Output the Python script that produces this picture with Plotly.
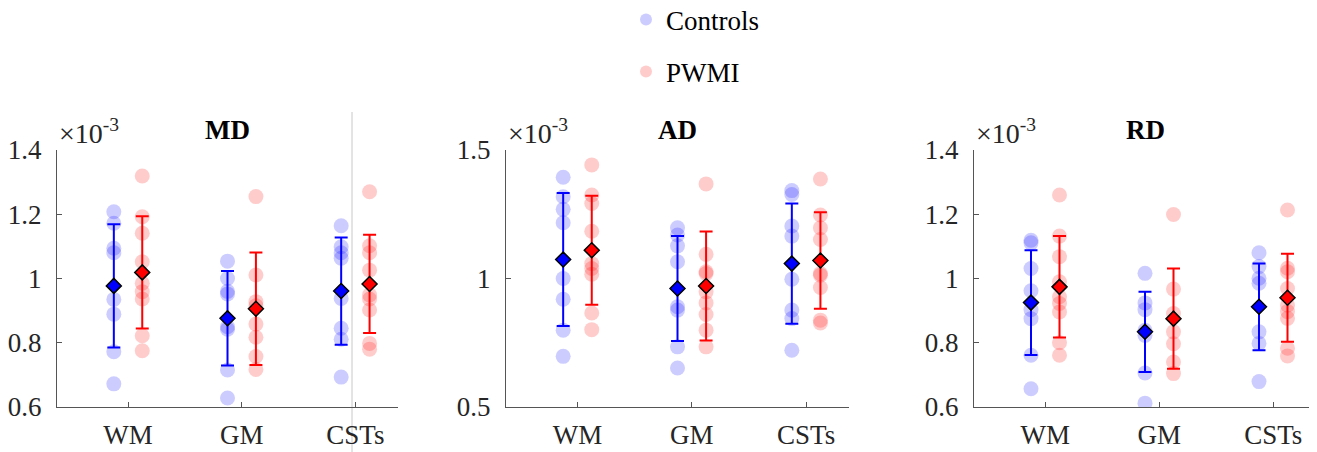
import plotly.graph_objects as go

# ---------------- data (values in units of 1e-3 mm^2/s) ----------------
categories = ["WM", "GM", "CSTs"]
metrics = ["MD", "AD", "RD"]
groups = ["Controls", "PWMI"]

md_controls = [
    [1.208, 1.172, 1.094, 1.080, 0.935, 0.889, 0.772, 0.672],
    [1.054, 1.000, 0.960, 0.952, 0.850, 0.842, 0.715, 0.628],
    [1.164, 1.099, 1.080, 1.063, 0.938, 0.845, 0.811, 0.693],
]
md_pwmi = [
    [1.319, 1.192, 1.141, 1.052, 0.985, 0.959, 0.936, 0.822, 0.775],
    [1.255, 1.011, 0.928, 0.915, 0.858, 0.817, 0.757, 0.717],
    [1.270, 1.102, 1.080, 1.026, 0.949, 0.936, 0.902, 0.798, 0.780],
]
ad_controls = [
    [1.394, 1.318, 1.269, 1.217, 1.000, 0.919, 0.799, 0.697],
    [1.197, 1.169, 1.127, 1.065, 0.890, 0.877, 0.734, 0.652],
    [1.342, 1.327, 1.204, 1.165, 0.997, 0.877, 0.844, 0.721],
]
ad_pwmi = [
    [1.442, 1.325, 1.292, 1.184, 1.058, 1.039, 1.017, 0.866, 0.801],
    [1.368, 1.094, 1.026, 1.019, 0.948, 0.905, 0.860, 0.799, 0.734],
    [1.387, 1.247, 1.197, 1.152, 1.019, 1.013, 0.965, 0.838, 0.827],
]
rd_controls = [
    [1.119, 1.111, 1.031, 0.962, 0.903, 0.875, 0.761, 0.657],
    [1.016, 0.924, 0.903, 0.839, 0.823, 0.706, 0.612],
    [1.080, 1.037, 1.001, 0.985, 0.834, 0.798, 0.679],
]
rd_pwmi = [
    [1.260, 1.132, 1.068, 0.990, 0.943, 0.922, 0.896, 0.800, 0.761],
    [1.199, 0.967, 0.891, 0.834, 0.797, 0.740, 0.704],
    [1.213, 1.032, 1.021, 0.969, 0.917, 0.897, 0.876, 0.783, 0.759],
]

md_controls_mean = [0.977, 0.876, 0.961]
md_controls_sd = [0.192, 0.147, 0.167]
md_pwmi_mean = [1.019, 0.906, 0.983]
md_pwmi_sd = [0.175, 0.175, 0.153]
ad_controls_mean = [1.074, 0.961, 1.058]
ad_controls_sd = [0.259, 0.204, 0.234]
ad_pwmi_mean = [1.110, 0.971, 1.070]
ad_pwmi_sd = [0.212, 0.212, 0.188]
rd_controls_mean = [0.925, 0.834, 0.912]
rd_controls_sd = [0.163, 0.125, 0.135]
rd_pwmi_mean = [0.974, 0.875, 0.940]
rd_pwmi_sd = [0.158, 0.156, 0.137]

y_ranges = [[0.6, 1.4], [0.5, 1.5], [0.6, 1.4]]
y_ticks = [[0.6, 0.8, 1.0, 1.2, 1.4], [0.5, 1.0, 1.5], [0.6, 0.8, 1.0, 1.2, 1.4]]

# ---------------- styling / layout ----------------
# the page body has an 8px margin, so the figure is shifted by it
OFF = 8
SCREEN_W, SCREEN_H = 1317, 452
W, H = SCREEN_W - OFF, SCREEN_H - OFF
FONT = "Times New Roman, Liberation Serif, Tinos, serif"
offsets = {"Controls": -0.125, "PWMI": 0.125}
colors = {"Controls": "rgb(0,0,255)", "PWMI": "rgb(255,0,0)"}
TICK_SIZE = 27


def px(xs):
    return (xs - OFF) / W


def py(ys):
    return 1 - (ys - OFF) / H


panel_px = [(57, 398), (506, 849), (974, 1316)]
y_top_px, y_bot_px = 150, 407
ydom = [py(y_bot_px), py(y_top_px)]

dots = {"MD": (md_controls, md_pwmi), "AD": (ad_controls, ad_pwmi), "RD": (rd_controls, rd_pwmi)}
stats = {
    "MD": ((md_controls_mean, md_controls_sd), (md_pwmi_mean, md_pwmi_sd)),
    "AD": ((ad_controls_mean, ad_controls_sd), (ad_pwmi_mean, ad_pwmi_sd)),
    "RD": ((rd_controls_mean, rd_controls_sd), (rd_pwmi_mean, rd_pwmi_sd)),
}

fig = go.Figure()
annotations = []
layout_axes = {}

for p, m in enumerate(metrics):
    xa = "x" if p == 0 else f"x{p+1}"
    ya = "y" if p == 0 else f"y{p+1}"
    for g_i, g in enumerate(groups):
        data = dots[m][g_i]
        xs, ys = [], []
        for c_i, vals in enumerate(data):
            for v in vals:
                xs.append(c_i + 1 + offsets[g])
                ys.append(v)
        fig.add_trace(go.Scatter(
            x=xs, y=ys, mode="markers", xaxis=xa, yaxis=ya,
            name=g, showlegend=(p == 0),
            legend="legend" if g == "Controls" else "legend2",
            marker=dict(size=15, color=colors[g], opacity=0.2, line=dict(width=0)),
            hoverinfo="y",
        ))
    for g_i, g in enumerate(groups):
        mean, sd = stats[m][g_i]
        fig.add_trace(go.Scatter(
            x=[c + 1 + offsets[g] for c in range(len(categories))], y=mean,
            mode="markers", xaxis=xa, yaxis=ya, showlegend=False,
            marker=dict(symbol="diamond", size=11.5, color=colors[g],
                        line=dict(color="black", width=1.5)),
            error_y=dict(type="data", array=sd, visible=True, color=colors[g],
                         thickness=2, width=6.5),
        ))
    x0, x1 = panel_px[p]
    layout_axes["xaxis" if p == 0 else f"xaxis{p+1}"] = dict(
        domain=[px(x0), min(px(x1), 1.0)], anchor=ya, range=[0.375, 3.375],
        tickvals=[1, 2, 3], ticktext=categories, ticks="inside", ticklen=5,
        tickcolor="#555", tickwidth=1, showline=True, linecolor="#555", linewidth=1,
        showgrid=False, zeroline=False, automargin=False,
        tickfont=dict(family=FONT, size=TICK_SIZE, color="#262626"), ticklabelstandoff=4,
    )
    layout_axes["yaxis" if p == 0 else f"yaxis{p+1}"] = dict(
        domain=ydom, anchor=xa, range=y_ranges[p], tickvals=y_ticks[p],
        ticks="inside", ticklen=5, tickcolor="#555", tickwidth=1,
        showline=True, linecolor="#555", linewidth=1,
        showgrid=False, zeroline=False, automargin=False,
        tickfont=dict(family=FONT, size=TICK_SIZE, color="#262626"), ticklabelstandoff=9,
    )
    annotations.append(dict(
        text=f"<b>{m}</b>", x=px((x0 + x1) / 2), y=py(130), xref="paper", yref="paper",
        xanchor="center", yanchor="middle", showarrow=False,
        font=dict(family=FONT, size=27, color="black"),
    ))
    annotations.append(dict(
        text="×10<sup>-3</sup>", x=px(x0), y=py(151), xref="paper", yref="paper",
        xanchor="left", yanchor="bottom", showarrow=False,
        font=dict(family=FONT, size=28, color="#262626"),
    ))

shapes = [
    dict(type="line", xref="paper", yref="paper", x0=px(352), x1=px(352), y0=0, y1=py(112),
         line=dict(color="#c8c8c8", width=1), layer="below"),
    dict(type="line", xref="paper", yref="paper", x0=px(1310), x1=px(1310), y0=py(112), y1=py(149),
         line=dict(color="#dcdcdc", width=1), layer="below"),
    dict(type="line", xref="paper", yref="paper", x0=px(1310), x1=px(1310), y0=0, y1=py(408),
         line=dict(color="#dcdcdc", width=1), layer="below"),
]

legend_common = dict(
    xref="paper", yref="paper", xanchor="left", yanchor="middle",
    bgcolor="rgba(0,0,0,0)", borderwidth=0,
    font=dict(family=FONT, size=27, color="black"), itemsizing="constant",
)

fig.update_layout(
    width=W, height=H, margin=dict(l=0, r=0, t=0, b=0, autoexpand=False),
    paper_bgcolor="white", plot_bgcolor="rgba(0,0,0,0)",
    font=dict(family=FONT),
    showlegend=True,
    legend=dict(x=px(626), y=py(20), **legend_common),
    legend2=dict(x=px(626), y=py(72), **legend_common),
    annotations=annotations, shapes=shapes,
    **layout_axes,
)

fig.write_html("out.html")
